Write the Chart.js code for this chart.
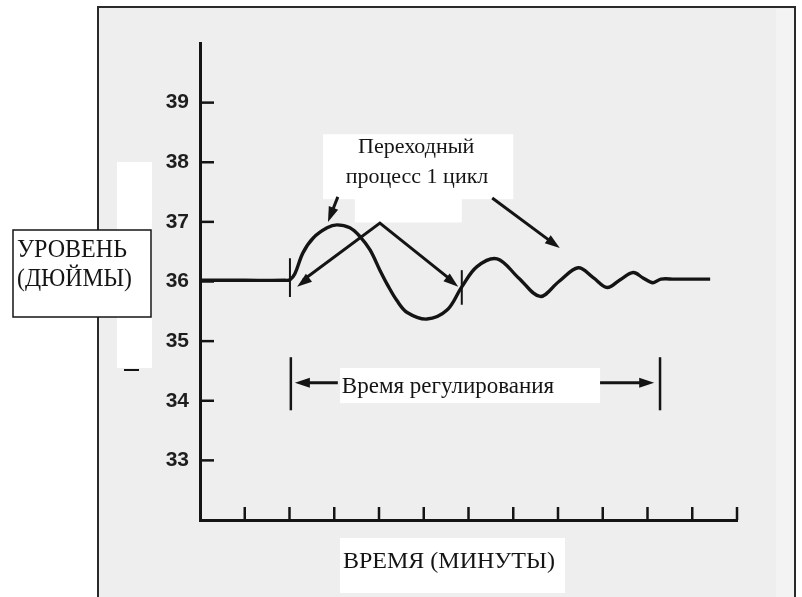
<!DOCTYPE html>
<html>
<head>
<meta charset="utf-8">
<script src="https://cdn.jsdelivr.net/npm/chart.js@4.4.0/dist/chart.umd.min.js"></script>
<style>
    html, body { margin: 0; padding: 0; background: #fff; }
    canvas { display: block; }
</style>
</head>
<body>
<canvas id="chart" width="802" height="597"></canvas>
<script>
// Время (минуты) и уровень (дюймы)
const timeMin = [0, 1, 1.9, 2.01, 2.12, 2.3, 2.53, 2.84, 3.06, 3.35, 3.58, 3.8, 4.02, 4.2, 4.4, 4.63, 5.07, 5.52, 5.85, 6.19, 6.64, 7.12, 7.6, 8.02, 8.45, 8.78, 9.1, 9.39, 9.68, 9.9, 10.12, 10.3, 10.6, 11.4];
const levelIn = [36.02, 36.02, 36.02, 36.03, 36.13, 36.48, 36.73, 36.9, 36.95, 36.9, 36.75, 36.53, 36.19, 35.93, 35.68, 35.48, 35.37, 35.52, 35.91, 36.25, 36.38, 36.06, 35.75, 36.0, 36.23, 36.07, 35.9, 36.03, 36.15, 36.06, 35.98, 36.04, 36.04, 36.04];
const yTickValues = [33, 34, 35, 36, 37, 38, 39];
const xTickValues = [1, 2, 3, 4, 5, 6, 7, 8, 9, 10, 11, 12];

const INK = '#141414';
const SERIF = '"Liberation Serif", "DejaVu Serif", serif';

function line(ctx, x1, y1, x2, y2) {
    ctx.beginPath();
    ctx.moveTo(x1, y1);
    ctx.lineTo(x2, y2);
    ctx.stroke();
}

// Наконечник стрелки в точке (x2, y2)
function arrowHead(ctx, x1, y1, x2, y2, len = 15, half = 5) {
    const a = Math.atan2(y2 - y1, x2 - x1);
    ctx.beginPath();
    ctx.moveTo(x2, y2);
    ctx.lineTo(x2 - len * Math.cos(a) + half * Math.sin(a), y2 - len * Math.sin(a) - half * Math.cos(a));
    ctx.lineTo(x2 - len * Math.cos(a) - half * Math.sin(a), y2 - len * Math.sin(a) + half * Math.cos(a));
    ctx.closePath();
    ctx.fill();
}

function arrow(ctx, x1, y1, x2, y2) {
    const a = Math.atan2(y2 - y1, x2 - x1);
    line(ctx, x1, y1, x2 - 8 * Math.cos(a), y2 - 8 * Math.sin(a));
    arrowHead(ctx, x1, y1, x2, y2);
}

// Фон страницы, рамка и белые заплатки скана
const paperPlugin = {
    id: 'paper',
    beforeDraw(chart) {
        const ctx = chart.ctx;
        ctx.save();
        ctx.fillStyle = '#ffffff';
        ctx.fillRect(0, 0, chart.width, chart.height);
        ctx.fillStyle = '#eeeeee';
        ctx.fillRect(98, 7, 697, chart.height);
        ctx.fillStyle = '#f3f3f3';
        ctx.fillRect(776, 9, 18, chart.height);
        ctx.strokeStyle = '#2a2a2a';
        ctx.lineWidth = 2;
        ctx.strokeRect(98, 7, 697, chart.height + 10);
        // белая полоса слева от оси
        ctx.fillStyle = '#ffffff';
        ctx.fillRect(117, 162, 35, 206);
        ctx.strokeStyle = INK;
        line(ctx, 124, 370, 139, 370);
        ctx.restore();
    }
};

// Засечки, подписи и стрелки
const notesPlugin = {
    id: 'notes',
    afterDraw(chart) {
        const ctx = chart.ctx;
        const xs = chart.scales.x, ys = chart.scales.y;
        const X = t => xs.getPixelForValue(t);
        const Y = v => ys.getPixelForValue(v);
        const base = ys.bottom;
        ctx.save();
        ctx.strokeStyle = INK;
        ctx.fillStyle = INK;
        ctx.lineCap = 'butt';

        // засечки осей внутрь
        ctx.lineWidth = 2.5;
        xTickValues.forEach(v => line(ctx, X(v), base, X(v), base - 13));
        yTickValues.forEach(v => line(ctx, xs.left, Y(v), xs.left + 14, Y(v)));

        // метки начала и конца цикла на кривой
        ctx.lineWidth = 2;
        line(ctx, X(2.01), Y(36.39), X(2.01), Y(35.74));
        line(ctx, X(5.85), Y(36.19), X(5.85), Y(35.61));

        // подпись оси Y
        ctx.fillStyle = '#ffffff';
        ctx.fillRect(13, 230, 138, 87);
        ctx.lineWidth = 1.5;
        ctx.strokeRect(13, 230, 138, 87);
        ctx.fillStyle = INK;
        ctx.font = '25px ' + SERIF;
        ctx.textAlign = 'left';
        ctx.textBaseline = 'alphabetic';
        ctx.fillText('УРОВЕНЬ', 17, 257, 110);
        ctx.fillText('(ДЮЙМЫ)', 17, 286, 115);

        // "Переходный процесс 1 цикл"
        ctx.fillStyle = '#ffffff';
        ctx.fillRect(X(2.75), Y(38.47), X(7.0) - X(2.75), Y(37.38) - Y(38.47));
        ctx.fillRect(X(3.46), Y(37.39), X(5.85) - X(3.46), Y(36.99) - Y(37.39));
        ctx.fillStyle = INK;
        ctx.font = '22px ' + SERIF;
        ctx.textAlign = 'center';
        ctx.fillText('Переходный', X(4.83), Y(38.155), 122);
        ctx.fillText('процесс 1 цикл', X(4.85), Y(37.65), 150);

        // стрелки к переходному процессу
        ctx.lineWidth = 3;
        arrow(ctx, X(3.08), Y(37.42), X(2.86), Y(37.0));
        arrow(ctx, X(6.53), Y(37.40), X(8.04), Y(36.56));
        // "один цикл": от вершины к обеим засечкам
        ctx.beginPath();
        ctx.moveTo(X(2.3), Y(36.02));
        ctx.lineTo(X(4.02), Y(36.98));
        ctx.lineTo(X(5.62), Y(36.02));
        ctx.stroke();
        arrowHead(ctx, X(4.02), Y(36.98), X(2.17), Y(35.91));
        arrowHead(ctx, X(4.02), Y(36.98), X(5.77), Y(35.91));

        // время регулирования
        ctx.fillStyle = '#ffffff';
        ctx.fillRect(X(3.13), Y(34.55), X(8.94) - X(3.13), Y(33.96) - Y(34.55));
        ctx.fillStyle = INK;
        ctx.lineWidth = 2.5;
        line(ctx, X(2.03), Y(34.73), X(2.03), Y(33.84));
        line(ctx, X(10.28), Y(34.73), X(10.28), Y(33.84));
        ctx.lineWidth = 3;
        arrow(ctx, X(3.08), Y(34.30), X(2.12), Y(34.30));
        arrow(ctx, X(8.94), Y(34.30), X(10.15), Y(34.30));
        ctx.font = '23px ' + SERIF;
        ctx.textAlign = 'left';
        ctx.fillText('Время регулирования', X(3.17), Y(34.13), 221);

        // подпись оси X
        ctx.fillStyle = '#ffffff';
        ctx.fillRect(340, base + 18, 225, 55);
        ctx.fillStyle = INK;
        ctx.font = '24px ' + SERIF;
        ctx.fillText('ВРЕМЯ (МИНУТЫ)', 343, base + 48, 215);
        ctx.restore();
    }
};

document.addEventListener('DOMContentLoaded', () => {
    const ctx = document.getElementById('chart').getContext('2d');

    new Chart(ctx, {
        type: 'line',
        data: {
            datasets: [{
                data: timeMin.map((t, i) => ({ x: t, y: levelIn[i] })),
                borderColor: INK,
                borderWidth: 3.4,
                pointRadius: 0,
                fill: false,
                tension: 0.35
            }]
        },
        options: {
            responsive: false,
            animation: false,
            events: [],
            layout: { padding: { top: 43, right: 65, left: 0, bottom: 0 } },
            plugins: {
                legend: { display: false },
                tooltip: { enabled: false }
            },
            scales: {
                x: {
                    type: 'linear',
                    min: 0,
                    max: 12,
                    ticks: { display: false },
                    grid: { display: false, drawTicks: false },
                    border: { display: true, color: INK, width: 3 },
                    afterFit: s => { s.height = 77; }
                },
                y: {
                    min: 32,
                    max: 40,
                    ticks: {
                        stepSize: 1,
                        padding: 11,
                        color: '#1e1e1e',
                        font: { family: '"Liberation Sans", Arial, sans-serif', size: 21, weight: 'bold' },
                        callback: v => yTickValues.includes(v) ? String(v) : ''
                    },
                    grid: { display: false, drawTicks: false },
                    border: { display: true, color: INK, width: 3 },
                    afterFit: s => { s.width = 200; }
                }
            }
        },
        plugins: [paperPlugin, notesPlugin]
    });
});
</script>
</body>
</html>
